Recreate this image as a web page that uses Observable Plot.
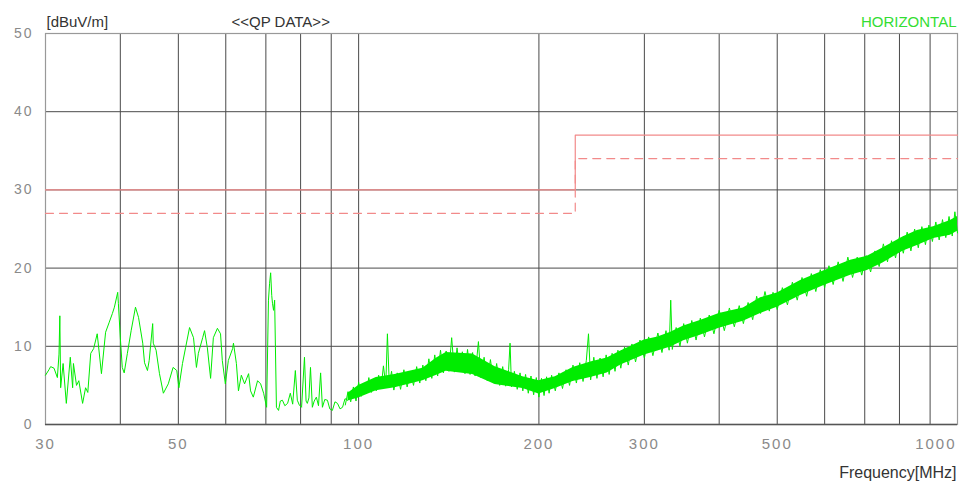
<!DOCTYPE html>
<html>
<head>
<meta charset="utf-8">
<script src="https://cdn.jsdelivr.net/npm/d3@7"></script>
<script src="https://cdn.jsdelivr.net/npm/@observablehq/plot@0.6"></script>
<style>
  html, body { margin: 0; padding: 0; background: #fff; }
  #chart svg { display: block; }
  #chart g[aria-label="x-axis tick label"] text,
  #chart g[aria-label="y-axis tick label"] text { letter-spacing: 2px; }
</style>
</head>
<body>
<div id="chart"></div>
<script>
// ---- data ----
const gridFreqs = [40, 50, 60, 70, 80, 90, 100, 200, 300, 400, 500, 600, 700, 800, 900];
const gridLevels = [10, 20, 30, 40];
const xTickLabels = [30, 50, 70, 100, 200, 300, 500, 700];
const xLastTick = [1000];
const yTickLabels = [0, 10, 20, 30, 40, 50];

// limit lines (QP limit, and margin line)
const limitFreq = [30, 230, 230, 1000];
const limitLevel = [30, 30, 37, 37];
const marginFreq = [30, 230, 230, 1000];
const marginLevel = [27, 27, 34, 34];

// low-frequency trace (MHz, dBuV/m)
const lowFreq = [30.0, 30.4, 30.6, 31.0, 31.4, 31.6, 31.7, 31.8, 32.1, 32.5, 33.0, 33.3, 33.4, 33.8, 34.1, 34.6, 35.0, 35.3,
  35.7, 36.1, 36.6, 37.2, 37.8, 38.3, 38.8, 39.1, 39.6, 39.7, 40.0, 40.3, 40.6, 41.1, 41.7, 42.4, 42.9, 43.6, 43.9, 44.4,
  44.7, 45.3, 45.4, 45.9, 46.5, 47.2, 48.1, 49.0, 49.7, 50.1, 50.8, 51.4, 52.2, 53.0, 53.6, 54.0, 54.9, 55.3, 55.9, 56.6,
  57.2, 58.1, 58.8, 59.2, 59.9, 60.6, 61.6, 61.8, 62.5, 63.0, 63.7, 64.5, 65.5, 66.0, 66.7, 67.8, 68.6, 69.4, 70.2, 70.7,
  71.0, 71.3, 71.6, 71.8, 72.1, 72.4, 72.9, 73.5, 74.0, 74.6, 75.3, 76.1, 76.9, 77.6, 78.4, 79.0, 79.6, 80.3, 81.2, 81.7,
  82.1, 82.6, 83.1, 83.7, 84.3, 85.0, 85.7, 86.4, 87.0, 87.8, 88.7, 89.5, 90.4, 91.3, 92.2, 93.1, 94.0, 94.9, 95.8];
const lowLevel = [6.3, 7.0, 7.4, 7.2, 6.0, 9.0, 13.9, 4.7, 7.8, 2.7, 8.6, 4.7, 7.8, 5.0, 5.6, 2.7, 4.7, 4.1,
  9.1, 9.7, 11.6, 6.5, 11.8, 13.0, 14.2, 15.0, 16.9, 15.5, 11.1, 7.3, 6.6, 9.1, 12.0, 15.0, 13.7, 10.4, 7.9, 6.9,
  8.2, 12.9, 10.4, 9.5, 6.5, 4.0, 5.2, 7.3, 6.9, 4.7, 7.8, 9.8, 12.4, 11.1, 7.3, 9.1, 11.1, 12.0, 9.8, 5.9,
  11.1, 12.3, 11.6, 8.2, 5.2, 8.2, 9.7, 10.4, 7.8, 4.3, 6.3, 5.2, 6.5, 4.3, 3.5, 5.6, 5.2, 4.0, 2.2, 15.9,
  18.0, 19.4, 16.5, 15.5, 14.6, 15.9, 2.2, 1.8, 3.0, 3.1, 2.4, 2.7, 4.0, 2.6, 6.9, 3.1, 2.5, 2.2, 8.6, 3.0,
  2.7, 3.4, 7.3, 2.2, 3.0, 3.5, 2.4, 6.6, 2.2, 3.2, 3.1, 2.0, 1.8, 2.9, 2.7, 2.0, 2.2, 3.3, 3.1];

// dense band trace 95 MHz – 1 GHz (MHz, dBuV/m)
const bandFreq = [95, 96, 97, 98, 99, 100, 101, 102, 103, 104, 105, 106, 107, 108, 109, 110, 111, 111.7, 112.5, 113.5,
  114.5, 116, 117.5, 119, 120.5, 122, 123.5, 125, 126.5, 128, 129.5, 131, 132.5, 134, 135.5, 137, 138.5, 140, 141.5, 143,
  144.5, 146, 147.5, 149, 150.5, 152, 153.5, 155, 156.5, 158.5, 160, 162, 164, 166, 168, 170, 172, 174, 176, 178,
  179, 180, 182, 184, 186, 188, 190, 192, 194, 196, 198, 200, 202, 204, 206, 208, 210, 213, 216, 219,
  222, 225, 228, 231, 234, 237, 240, 242, 244, 247, 250, 253, 256, 259, 262, 265, 268, 271, 274, 278,
  282, 286, 290, 295, 300, 305, 310, 316, 321, 326, 330, 332, 334, 339, 344, 349, 354, 360, 366, 372,
  378, 385, 392, 400, 408, 416, 424, 432, 439, 447, 455, 462, 469, 477, 485, 492, 500, 510, 520, 530,
  540, 550, 560, 570, 580, 590, 600, 610, 620, 632, 644, 656, 668, 680, 692, 704, 716, 728, 740, 752,
  764, 776, 788, 800, 812, 824, 836, 848, 860, 872, 884, 896, 908, 920, 932, 944, 956, 968, 980, 990, 1000];
const bandLevel = [2.5, 4.2, 2.9, 4.8, 3.0, 5.4, 3.6, 5.0, 3.9, 6.0, 4.1, 5.5, 4.3, 6.3, 4.6, 7.5, 5.0, 11.6, 5.2, 6.8,
  4.4, 6.6, 4.5, 7.0, 4.8, 6.7, 5.0, 7.4, 5.3, 7.6, 5.6, 8.4, 5.9, 8.9, 6.2, 9.5, 6.6, 9.4, 6.8, 11.1,
  6.7, 9.8, 6.9, 9.3, 6.5, 9.6, 6.4, 9.2, 6.2, 10.6, 6.0, 8.6, 5.6, 8.3, 5.3, 7.8, 5.0, 7.4, 4.9, 7.0,
  10.4, 4.8, 6.8, 4.5, 6.6, 4.3, 6.4, 4.0, 6.2, 3.8, 6.0, 3.5, 5.9, 3.7, 6.1, 4.0, 6.3, 4.3, 6.6, 4.6,
  7.0, 5.0, 7.6, 5.3, 7.9, 5.5, 8.2, 11.6, 5.7, 8.6, 5.9, 8.5, 6.1, 8.9, 6.4, 9.1, 6.8, 9.5, 7.2, 9.9,
  7.6, 10.3, 8.0, 10.8, 8.5, 11.2, 8.8, 11.7, 9.2, 12.0, 9.5, 15.9, 9.6, 12.4, 10.0, 12.9, 10.4, 13.3, 10.8, 13.6,
  11.2, 14.0, 11.6, 14.6, 12.0, 14.9, 12.5, 15.2, 12.9, 15.6, 13.4, 16.4, 14.2, 17.0, 14.5, 16.9, 14.7, 17.5, 15.3, 18.2,
  15.9, 18.8, 16.4, 19.3, 17.0, 19.8, 17.5, 20.3, 17.9, 20.8, 18.3, 21.4, 18.8, 21.4, 19.1, 21.6, 19.5, 22.2, 20.2, 23.1,
  20.8, 23.5, 21.3, 24.0, 21.9, 24.6, 22.2, 25.0, 22.6, 25.3, 23.0, 25.5, 23.4, 25.9, 23.6, 26.2, 23.9, 26.6, 24.1, 27.2, 24.5];

// band envelope (MHz, low, high)
const envFreq = [96, 100, 107, 115, 128, 135, 140, 155, 169, 188, 200, 213, 228, 244, 260, 274, 300, 316, 332, 349,
  372, 400, 439, 469, 500, 547, 600, 663, 707, 752, 812, 857, 912, 973, 1000];
const envLow = [3.0, 3.4, 4.3, 4.7, 5.6, 6.3, 6.8, 6.4, 5.1, 4.6, 3.9, 4.6, 5.5, 6.0, 6.6, 7.6, 8.9, 9.4, 9.9, 10.7,
  11.4, 12.3, 13.2, 14.2, 15.0, 16.5, 17.8, 19.1, 19.7, 20.7, 22.2, 22.9, 23.8, 24.2, 24.7];
const envHigh = [4.0, 5.0, 6.0, 6.4, 7.2, 8.5, 9.2, 9.0, 7.4, 6.1, 5.6, 6.1, 7.3, 8.0, 8.5, 9.4, 10.8, 11.2, 11.8, 12.6,
  13.3, 14.2, 14.9, 16.2, 16.8, 18.4, 19.7, 21.0, 21.5, 22.6, 24.0, 24.8, 25.3, 26.1, 26.6];

// texts
const unitLabel = "[dBuV/m]";
const modeLabel = "<<QP DATA>>";
const polLabel = "HORIZONTAL";
const xAxisLabel = "Frequency[MHz]";

// ---- build tables ----
const zip = (xs, ys) => xs.map((x, i) => ({x, y: ys[i]}));
const limitData = zip(limitFreq, limitLevel);
const marginData = zip(marginFreq, marginLevel);
const lowData = zip(lowFreq, lowLevel);
const bandData = zip(bandFreq, bandLevel);
const envData = envFreq.map((x, i) => ({x, lo: envLow[i], hi: envHigh[i]}));

const green = "#00ec00";
const red = "#f28a8a";
const font = "Liberation Sans, Arial, sans-serif";
const tickColor = "#8a8a8a";

const chart = Plot.plot({
  width: 961,
  height: 486,
  marginLeft: 45,
  marginRight: 4,
  marginTop: 33,
  marginBottom: 62,
  style: {fontFamily: font, background: "#fff"},
  x: {type: "log", domain: [30, 1000]},
  y: {domain: [0, 50]},
  marks: [
    Plot.ruleX(gridFreqs, {stroke: "#4a4a4a", strokeWidth: 1}),
    Plot.ruleY(gridLevels, {stroke: "#4a4a4a", strokeWidth: 1}),
    Plot.frame({stroke: "#999", strokeWidth: 1.2}),
    Plot.ruleY([0], {stroke: "#555", strokeWidth: 1.5}),
    Plot.line(limitData, {x: "x", y: "y", stroke: red, strokeWidth: 1.2}),
    Plot.line(marginData, {x: "x", y: "y", stroke: red, strokeWidth: 1.2, strokeDasharray: "8,6"}),
    Plot.areaY(envData, {x: "x", y1: "lo", y2: "hi", fill: green, curve: "linear"}),
    Plot.line(bandData, {x: "x", y: "y", stroke: green, strokeWidth: 1}),
    Plot.line(lowData, {x: "x", y: "y", stroke: green, strokeWidth: 1}),
    Plot.axisX({ticks: xTickLabels, tickFormat: d => String(d), tickSize: 0, tickPadding: 14,
      fontSize: 15, color: tickColor, label: null}),
    Plot.axisX({ticks: xLastTick, tickFormat: d => String(d), tickSize: 0, tickPadding: 14,
      fontSize: 15, color: tickColor, label: null, textAnchor: "end", dx: -1}),
    Plot.axisY({ticks: yTickLabels, tickFormat: d => String(d), tickSize: 0, tickPadding: 12,
      fontSize: 14, color: tickColor, label: null}),
    Plot.text([unitLabel], {frameAnchor: "top-left", dx: 1, dy: -17, text: d => d, textAnchor: "start",
      fontSize: 15, fill: "#333"}),
    Plot.text([modeLabel], {frameAnchor: "top-left", dx: 186, dy: -17, text: d => d, textAnchor: "start",
      fontSize: 15, fill: "#333"}),
    Plot.text([polLabel], {frameAnchor: "top-right", dx: -1, dy: -17, text: d => d, textAnchor: "end",
      fontSize: 15, fill: "#33dd33"}),
    Plot.text([xAxisLabel], {frameAnchor: "bottom-right", dx: -1, dy: 53, text: d => d, textAnchor: "end",
      fontSize: 16, fill: "#333"})
  ]
});
document.getElementById("chart").appendChild(chart);
</script>
</body>
</html>
